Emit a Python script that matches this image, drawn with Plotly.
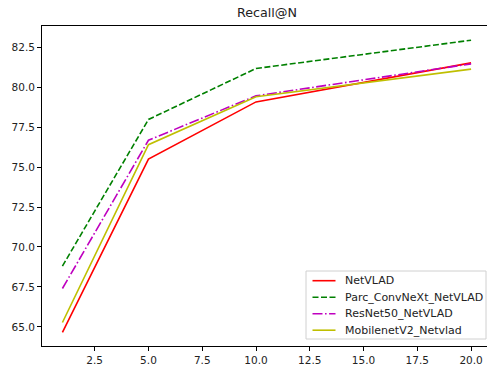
import plotly.graph_objects as go

# Recall@N for each backbone
n_values = [1, 5, 10, 20]
netvlad = [64.65, 75.5, 79.08, 81.52]
parc_convnext = [68.8, 77.98, 81.17, 82.94]
resnet50 = [67.4, 76.68, 79.46, 81.46]
mobilenetv2 = [65.27, 76.4, 79.4, 81.13]

x_ticks = [2.5, 5.0, 7.5, 10.0, 12.5, 15.0, 17.5, 20.0]
y_ticks = [65.0, 67.5, 70.0, 72.5, 75.0, 77.5, 80.0, 82.5]

series = [
    ("NetVLAD", netvlad, "#ff0000", "solid"),
    ("Parc_ConvNeXt_NetVLAD", parc_convnext, "#008000", "6px,2.5px"),
    ("ResNet50_NetVLAD", resnet50, "#bf00bf", "10px,2.5px,1.6px,2.5px"),
    ("MobilenetV2_Netvlad", mobilenetv2, "#bfbf00", "solid"),
]

W, H = 487, 369
ML, MR, MT, MB = 42, 0, 26, 23
plot_w = W - ML - MR
plot_h = H - MT - MB


def px_x(px):
    return (px - ML) / plot_w


def px_y(py):
    return (H - MB - py) / plot_h


fig = go.Figure()
for name, vals, color, dash in series:
    fig.add_trace(go.Scatter(
        x=n_values, y=vals, mode="lines", name=name, showlegend=False,
        line=dict(color=color, width=1.6, dash=dash),
    ))

font = "DejaVu Sans, Liberation Sans, sans-serif"
axis_common = dict(
    showgrid=False, zeroline=False, showline=True, linecolor="black", linewidth=0.9,
    ticks="outside", ticklen=4, tickwidth=0.9, tickcolor="black",
    tickfont=dict(family=font, size=10.5, color="#222"), tickformat=".1f",
)

# Legend drawn as a framed box in the lower-right corner
shapes = [dict(
    type="rect", xref="paper", yref="paper", layer="above",
    x0=px_x(306), x1=px_x(486), y0=px_y(339), y1=px_y(271),
    fillcolor="rgba(255,255,255,0.8)", line=dict(color="#d0d0d0", width=1),
)]
annotations = [dict(
    text="Recall@N", xref="paper", yref="paper", x=px_x(266.5), y=1,
    xanchor="center", yanchor="bottom", yshift=4, showarrow=False,
    font=dict(family=font, size=12.7, color="#222"),
)]
row_y = 280.7
for name, vals, color, dash in series:
    shapes.append(dict(
        type="line", xref="paper", yref="paper", layer="above",
        x0=px_x(312.5), x1=px_x(335.5), y0=px_y(row_y), y1=px_y(row_y),
        line=dict(color=color, width=1.6, dash=dash),
    ))
    annotations.append(dict(
        text=name, xref="paper", yref="paper", x=px_x(343), y=px_y(row_y),
        xanchor="left", yanchor="middle", showarrow=False,
        font=dict(family=font, size=11, color="#222"),
    ))
    row_y += 16.5

fig.update_layout(
    width=W, height=H,
    margin=dict(l=ML, r=MR, t=MT, b=MB),
    paper_bgcolor="white", plot_bgcolor="white",
    showlegend=False,
    xaxis=dict(range=[0.05, 20.74], tickvals=x_ticks, mirror=True, **axis_common),
    yaxis=dict(range=[63.8, 83.83], tickvals=y_ticks, **axis_common),
    shapes=shapes,
    annotations=annotations,
)

fig.write_html("out.html")
